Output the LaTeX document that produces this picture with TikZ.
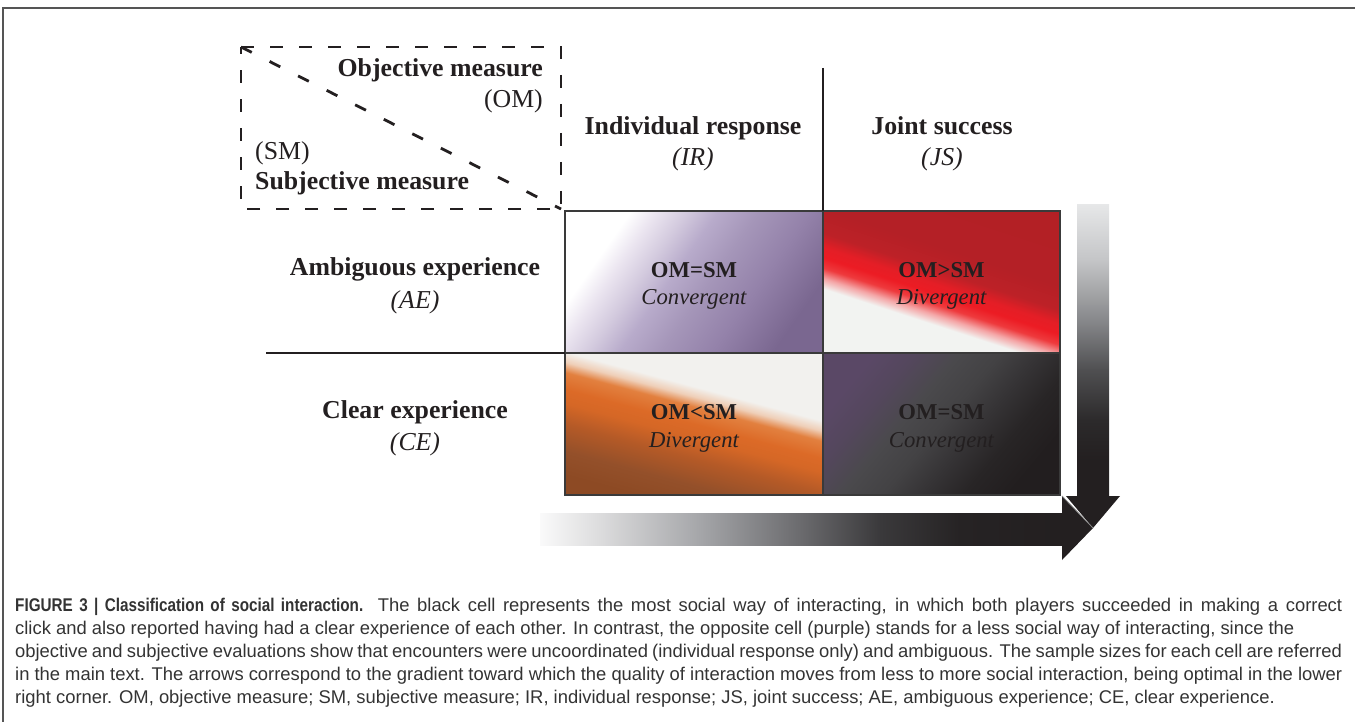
\documentclass[tikz,border=0pt]{standalone}
\usepackage{fontspec}
\setmainfont{Liberation Serif}
\newfontfamily\capfont{Liberation Sans}
\newfontfamily\capboldfont[FakeStretch=0.83]{Liberation Sans}
\definecolor{ink}{HTML}{231F20}
\definecolor{capink}{HTML}{333333}
\definecolor{framegray}{HTML}{555555}
\definecolor{gridline}{HTML}{3A3A3A}
% purple
\definecolor{pA}{HTML}{EBE5F0}\definecolor{pB}{HTML}{D3CADE}\definecolor{pC}{HTML}{B8ABCB}
\definecolor{pD}{HTML}{A596B9}\definecolor{pE}{HTML}{9482AA}\definecolor{pF}{HTML}{7A6790}
% red
\definecolor{rA}{HTML}{F2F3F1}\definecolor{rB}{HTML}{F4A5A6}\definecolor{rC}{HTML}{EE3A3D}
\definecolor{rD}{HTML}{EC1C24}\definecolor{rE}{HTML}{E41E26}\definecolor{rF}{HTML}{BD2127}
\definecolor{rG}{HTML}{B42026}\definecolor{rH}{HTML}{B21F24}
% orange
\definecolor{oA}{HTML}{8D4A24}\definecolor{oB}{HTML}{94502A}\definecolor{oC}{HTML}{B55A27}
\definecolor{oD}{HTML}{D56726}\definecolor{oE}{HTML}{DC6A27}\definecolor{oF}{HTML}{E2803F}
\definecolor{oG}{HTML}{EFCFB8}\definecolor{oH}{HTML}{F2F1EE}
% black
\definecolor{kA}{HTML}{5A4866}\definecolor{kB}{HTML}{54475D}\definecolor{kC}{HTML}{4A494C}
\definecolor{kD}{HTML}{434244}\definecolor{kE}{HTML}{353335}\definecolor{kF}{HTML}{282526}
\definecolor{kG}{HTML}{221E1F}
% arrows
\definecolor{hA}{HTML}{FAFAFA}\definecolor{hB}{HTML}{DCDCDD}\definecolor{hC}{HTML}{A5A6A9}
\definecolor{hD}{HTML}{6B6B6E}\definecolor{hE}{HTML}{3A393B}\definecolor{hF}{HTML}{262324}
\definecolor{vA}{HTML}{E6E7E8}\definecolor{vB}{HTML}{C4C5C7}\definecolor{vC}{HTML}{87888B}
\definecolor{vD}{HTML}{4F4F51}\definecolor{vE}{HTML}{2C2A2B}
\definecolor{headline}{HTML}{8A8A8A}

\pgfdeclarehorizontalshading{purplesh}{100bp}{color(0bp)=(white); color(28bp)=(white);
  color(33bp)=(pA); color(39bp)=(pB); color(45bp)=(pC); color(53bp)=(pD); color(63bp)=(pE);
  color(75bp)=(pF); color(100bp)=(pF)}
\pgfdeclarehorizontalshading{redsh}{100bp}{color(0bp)=(rA); color(37bp)=(rA);
  color(40bp)=(rB); color(43bp)=(rC); color(46bp)=(rD); color(49bp)=(rE); color(53bp)=(rF);
  color(60bp)=(rG); color(100bp)=(rH)}
\pgfdeclarehorizontalshading{orangesh}{100bp}{color(0bp)=(oA); color(25bp)=(oA);
  color(32bp)=(oB); color(40bp)=(oC); color(46bp)=(oD); color(50bp)=(oE); color(55bp)=(oF);
  color(58bp)=(oG); color(61bp)=(oH); color(100bp)=(oH)}
\pgfdeclarehorizontalshading{blacksh}{100bp}{color(0bp)=(kA); color(25bp)=(kA);
  color(33bp)=(kB); color(42bp)=(kC); color(50bp)=(kD); color(58bp)=(kE); color(66bp)=(kF);
  color(75bp)=(kG); color(100bp)=(kG)}
\pgfdeclarehorizontalshading{harrowsh}{100bp}{color(0bp)=(hA); color(25bp)=(hA);
  color(30.7bp)=(hB); color(40.3bp)=(hC); color(49.9bp)=(hD); color(57.6bp)=(hE);
  color(65.2bp)=(hF); color(75bp)=(ink); color(100bp)=(ink)}
\pgfdeclareverticalshading{varrowsh}{100bp}{color(0bp)=(ink); color(31bp)=(ink);
  color(38bp)=(vE); color(46.6bp)=(vD); color(55.2bp)=(vC); color(65.5bp)=(vB);
  color(75bp)=(vA); color(100bp)=(vA)}

\tikzset{
  labb/.style={font=\fontsize{25.8}{30}\selectfont\bfseries, text=ink, inner sep=0pt, anchor=base},
  labr/.style={font=\fontsize{25.8}{30}\selectfont, text=ink, inner sep=0pt, anchor=base},
  labi/.style={font=\fontsize{25.8}{30}\selectfont\itshape, text=ink, inner sep=0pt, anchor=base},
  cellb/.style={font=\fontsize{22.7}{26}\selectfont\bfseries, text=ink, inner sep=0pt, anchor=base},
  celli/.style={font=\fontsize{22.7}{26}\selectfont\itshape, text=ink, inner sep=0pt, anchor=base},
  capline/.style={font=\capfont\fontsize{18.4}{22}\selectfont, text=capink, inner sep=0pt, anchor=base west},
  dashbox/.style={draw=ink, line width=2.8pt, dash pattern=on 13pt off 16pt},
  dashdiag/.style={draw=ink, line width=2.8pt, dash pattern=on 12pt off 20pt},
  divline/.style={draw=ink, line width=1.2pt},
  cellline/.style={draw=gridline, line width=1.5pt},
  framel/.style={draw=framegray, line width=1.6pt},
}
\newcommand{\capjust}[1]{\makebox[1327pt][s]{#1}}

\begin{document}
\begin{tikzpicture}[x=1pt, y=-1pt]
\useasboundingbox (0,0) rectangle (1355,722);
% outer frame
\coordinate (frBL) at (3,722);
\coordinate (frTL) at (3,8);
\coordinate (frTR) at (1355,8);
\draw[framel] (frBL) -- (frTL) -- (frTR);

% dashed legend box
\coordinate (dbTL) at (241,47);
\coordinate (dbTR) at (561,47);
\coordinate (dbBR) at (561,209);
\coordinate (dbBL) at (241,209);
\draw[dashbox] (dbTL) -- (dbTR) -- (dbBR) -- (dbBL) -- cycle;
\draw[dashdiag] (dbTL) -- (dbBR);
\node[labb, anchor=base east] (om1) at (543,77) {Objective measure};
\node[labr, anchor=base east] (om2) at (543,108) {(OM)};
\node[labr, anchor=base west] (sm1) at (255,160) {(SM)};
\node[labb, anchor=base west] (sm2) at (255,190) {Subjective measure};

% grid coordinates
\coordinate (g00) at (565,211); \coordinate (g10) at (823,211); \coordinate (g20) at (1060,211);
\coordinate (g01) at (565,353); \coordinate (g11) at (823,353); \coordinate (g21) at (1060,353);
\coordinate (g02) at (565,495); \coordinate (g12) at (823,495); \coordinate (g22) at (1060,495);

% cells
\shade[shading=purplesh, shading angle=-35] (g00) rectangle (g11);
\shade[shading=redsh, shading angle=72] (g10) rectangle (g21);
\shade[shading=orangesh, shading angle=75] (g01) rectangle (g12);
\shade[shading=blacksh, shading angle=-40] (g11) rectangle (g22);
\draw[cellline] (g00) rectangle (g22);
\draw[cellline] (g10) -- (g12);
\draw[cellline] (g01) -- (g21);

% divider lines
\coordinate (vtop) at (823,68);
\coordinate (hleft) at (266,353);
\draw[divline] (vtop) -- (g10);
\draw[divline] (hleft) -- (g01);

% headers
\node[labb] (ir) at (693,135) {Individual response};
\node[labi] (iri) at (693,166) {(IR)};
\node[labb] (js) at (942,135) {Joint success};
\node[labi] (jsi) at (942,166) {(JS)};
\node[labb] (ae) at (415,276) {Ambiguous experience};
\node[labi] (aei) at (415,308) {(AE)};
\node[labb] (ce) at (415,418) {Clear experience};
\node[labi] (cei) at (415,450) {(CE)};

% cell texts
\node[cellb] (c1) at (694,277) {OM=SM};
\node[celli] (c1i) at (694,305) {Convergent};
\node[cellb] (c2) at (941.5,277) {OM>SM};
\node[celli] (c2i) at (941.5,305) {Divergent};
\node[cellb] (c3) at (694,419) {OM<SM};
\node[celli] (c3i) at (694,447) {Divergent};
\node[cellb] (c4) at (941.5,419) {OM=SM};
\node[celli] (c4i) at (941.5,447) {Convergent};

% arrows
\coordinate (haL) at (540,513); \coordinate (haR) at (1062,545);
\coordinate (vaT) at (1077,205); \coordinate (vaB) at (1109,496);
\coordinate (tip) at (1093,528);
\coordinate (hhT) at (1062,496); \coordinate (hhB) at (1062,560);
\coordinate (vhL) at (1066,496); \coordinate (vhR) at (1120,496);
\shade[shading=harrowsh] (haL) rectangle (haR);
\shade[shading=varrowsh] (vaT) rectangle (vaB);
\fill[ink] (vhL) -- (vhR) -- (tip) -- cycle;
\fill[ink] (hhT) -- (tip) -- (hhB) -- cycle;
\draw[headline, line width=0.8pt] (hhT) -- (tip);

% caption
\node[capline] (cap1) at (15,611) {\capjust{{\capboldfont\bfseries FIGURE 3 | Classification of social interaction.} The black cell represents the most social way of interacting, in which both players succeeded in making a correct}};
\node[capline] (cap2) at (15,634) {click and also reported having had a clear experience of each other. In contrast, the opposite cell (purple) stands for a less social way of interacting, since the};
\node[capline] (cap3) at (15,657) {\capjust{objective and subjective evaluations show that encounters were uncoordinated (individual response only) and ambiguous. The sample sizes for each cell are referred}};
\node[capline] (cap4) at (15,680) {\capjust{in the main text. The arrows correspond to the gradient toward which the quality of interaction moves from less to more social interaction, being optimal in the lower}};
\node[capline] (cap5) at (15,703) {right corner. OM, objective measure; SM, subjective measure; IR, individual response; JS, joint success; AE, ambiguous experience; CE, clear experience.};
\end{tikzpicture}
\end{document}
